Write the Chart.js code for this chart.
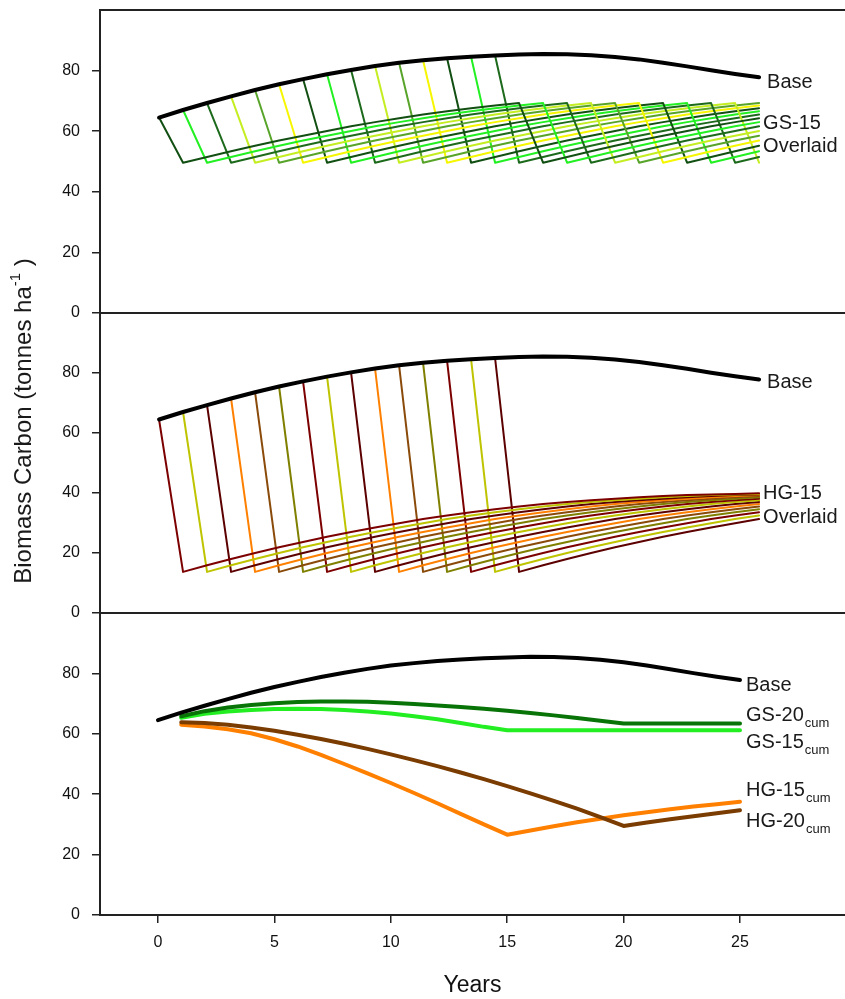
<!DOCTYPE html>
<html>
<head>
<meta charset="utf-8">
<script src="https://cdn.jsdelivr.net/npm/chart.js@4.4.0/dist/chart.umd.min.js"></script>
<style>
html, body { margin: 0; padding: 0; background: #fff; }
#wrap { position: relative; width: 845px; height: 999px; overflow: hidden; }
#wrap canvas { position: absolute; left: 0; top: 0; }
</style>
</head>
<body>
<div id="wrap">
  <canvas id="gsChart" width="845" height="999"></canvas>
  <canvas id="hgChart" width="845" height="999"></canvas>
  <canvas id="cumChart" width="845" height="999"></canvas>
</div>
<script>
// base stand, years 0..25
const baseYears = [0,1,2,3,4,5,6,7,8,9,10,11,12,13,14,15,16,17,18,19,20,21,22,23,24,25];
const base = [64.5,67.0,69.3,71.5,73.6,75.5,77.2,78.8,80.2,81.5,82.6,83.4,84.1,84.6,85.0,
              85.3,85.5,85.4,85.1,84.5,83.7,82.6,81.4,80.1,78.9,77.8];

// overlaid harvest runs: harvest year and regrowth after harvest (one value per year)
const harvestYears = [0,1,2,3,4,5,6,7,8,9,10,11,12,13,14];
const gsRegrowth = [49.6,51.5,53.4,55.2,56.9,58.5,60.1,61.6,63.0,64.3,65.5,66.6,67.6,68.5,69.3];
const hgRegrowth = [13.7,15.9,18.0,20.0,21.9,23.7,25.4,27.0,28.5,29.9,31.3,32.5,33.6,34.6,35.5,
                    36.3,37.0,37.6,38.1,38.6,39.0,39.3,39.5,39.7,39.9];

// cumulative runs, years 1..25
const cumYears = [1,2,3,4,5,6,7,8,9,10,11,12,13,14,15,16,17,18,19,20,21,22,23,24,25];
const gs20cum = [65.8,67.5,68.7,69.5,70.1,70.5,70.7,70.7,70.6,70.3,69.9,69.4,68.9,68.3,67.6,
                 66.9,66.1,65.2,64.3,63.4,63.4,63.4,63.4,63.4,63.4];
const gs15cum = [65.3,66.6,67.4,67.9,68.2,68.3,68.2,67.9,67.4,66.7,65.8,64.8,63.6,62.3,61.2,
                 61.2,61.2,61.2,61.2,61.2,61.2,61.2,61.2,61.2,61.2];
const hg15cum = [63.0,62.4,61.5,60.2,58.2,55.8,53.0,50.0,46.9,43.7,40.4,37.0,33.5,30.0,26.6,
                 28.0,29.4,30.7,31.9,33.0,34.0,35.0,35.9,36.7,37.5];
const hg20cum = [63.8,63.6,63.0,62.1,61.0,59.7,58.3,56.7,55.0,53.2,51.3,49.3,47.2,45.0,42.7,
                 40.3,37.8,35.2,32.4,29.5,30.6,31.7,32.7,33.7,34.7];

const yTicks = [0,20,40,60,80];
const xTicks = [0,5,10,15,20,25];

const gsColors = ['#124f12','#22f022','#1d6a1d','#c4ee22','#58a42a','#f6f600'];
const hgColors = ['#7c0000','#bec400','#5c0000','#ff8000','#8a4a0a','#7f7f00'];
const FONT = "'Liberation Sans', Arial, sans-serif";
const lastYear = baseYears[baseYears.length - 1];

function pts(xs, ys) {
    return xs.map((x, i) => ({ x: x, y: ys[i] }));
}

// one harvest run: starts on base, drops to regrowth; restarts regrowth when the array runs out
function harvestRun(k, regrow) {
    const out = [{ x: k, y: base[k] }];
    let t = 0;
    for (let yr = k + 1; yr <= lastYear; yr++) {
        if (t === regrow.length) t = 0;
        out.push({ x: yr, y: regrow[t] });
        t++;
    }
    return out;
}

function baseSet(width) {
    return { data: pts(baseYears, base), borderColor: '#000', borderWidth: width };
}

// draws the top frame line and the end-of-line labels
const panelDeco = {
    id: 'panelDeco',
    afterDraw(chart, args, opts) {
        const ctx = chart.ctx, a = chart.chartArea;
        const xs = chart.scales.x, ys = chart.scales.y;
        ctx.save();
        ctx.strokeStyle = '#222';
        ctx.lineWidth = 2;
        ctx.beginPath();
        ctx.moveTo(a.left, a.top);
        ctx.lineTo(a.right, a.top);
        ctx.stroke();
        ctx.fillStyle = '#1a1a1a';
        ctx.textBaseline = 'middle';
        (opts.labels || []).forEach(l => {
            const x = xs.getPixelForValue(lastYear) + l.dx;
            const y = ys.getPixelForValue(l.v);
            ctx.font = '20px ' + FONT;
            ctx.fillText(l.text, x, y);
            if (l.sub) {
                const w = ctx.measureText(l.text).width;
                ctx.font = '13px ' + FONT;
                ctx.fillText(l.sub, x + w + 1, y + 8);
            }
        });
        if (opts.yTitle) {
            ctx.translate(24, 421);
            ctx.rotate(-Math.PI / 2);
            ctx.font = '24px ' + FONT;
            const t1 = 'Biomass Carbon (tonnes ha', t2 = '-1', t3 = ' )';
            const w1 = ctx.measureText(t1).width;
            const w3 = ctx.measureText(t3).width;
            ctx.font = '15px ' + FONT;
            const w2 = ctx.measureText(t2).width;
            let x0 = -(w1 + w2 + w3) / 2;
            ctx.font = '24px ' + FONT;
            ctx.fillText(t1, x0, 0);
            ctx.font = '15px ' + FONT;
            ctx.fillText(t2, x0 + w1, -8);
            ctx.font = '24px ' + FONT;
            ctx.fillText(t3, x0 + w1 + w2, 0);
        }
        ctx.restore();
    }
};

function yScale() {
    return {
        type: 'linear', min: 0, max: 100,
        afterBuildTicks: s => { s.ticks = yTicks.map(v => ({ value: v })); },
        afterFit: s => { s.width = 100; s.paddingTop = 0; s.paddingBottom = 0; },
        grid: { drawOnChartArea: false, drawTicks: true, tickLength: 8, color: '#222', lineWidth: 1.5 },
        border: { display: true, color: '#222', width: 2 },
        ticks: { padding: 12, color: '#111', font: { family: FONT, size: 16 } }
    };
}

function makeChart(id, datasets, xMin, xMax, showX, padTop, padBottom, deco) {
    const x = showX ? {
        type: 'linear', min: xMin, max: xMax,
        afterBuildTicks: s => { s.ticks = xTicks.map(v => ({ value: v })); },
        afterFit: s => { s.height = 84; s.paddingLeft = 0; s.paddingRight = 0; },
        grid: { drawOnChartArea: false, drawTicks: true, tickLength: 8, color: '#222', lineWidth: 1.5 },
        border: { display: true, color: '#222', width: 2 },
        ticks: { padding: 10, color: '#111', font: { family: FONT, size: 16 } },
        title: { display: true, text: 'Years', color: '#111', font: { family: FONT, size: 23 }, padding: { top: 0, bottom: 0 } }
    } : { type: 'linear', min: xMin, max: xMax, display: false };

    return new Chart(document.getElementById(id), {
        type: 'line',
        data: { datasets: datasets },
        options: {
            responsive: false,
            animation: false,
            devicePixelRatio: 1,
            events: [],
            layout: { padding: { top: padTop, bottom: padBottom, left: 0, right: 0 } },
            elements: {
                point: { radius: 0 },
                line: { tension: 0, borderJoinStyle: 'round', borderCapStyle: 'round' }
            },
            scales: { x: x, y: yScale() },
            plugins: { legend: { display: false }, tooltip: { enabled: false }, panelDeco: deco }
        },
        plugins: [panelDeco]
    });
}

// top panel: GS-15 overlaid
const gsSets = [baseSet(4)];
harvestYears.forEach((k, i) => {
    gsSets.push({ data: harvestRun(k, gsRegrowth), borderColor: gsColors[i % gsColors.length], borderWidth: 2 });
});
makeChart('gsChart', gsSets, -2.46, 28.58, false, 10, 686, {
    labels: [
        { text: 'Base', v: 76.0, dx: 8 },
        { text: 'GS-15', v: 62.7, dx: 4 },
        { text: 'Overlaid', v: 55.0, dx: 4 }
    ]
});

// middle panel: HG-15 overlaid
const hgSets = [baseSet(4)];
harvestYears.forEach((k, i) => {
    hgSets.push({ data: harvestRun(k, hgRegrowth), borderColor: hgColors[i % hgColors.length], borderWidth: 2 });
});
makeChart('hgChart', hgSets, -2.46, 28.58, false, 313, 386, {
    labels: [
        { text: 'Base', v: 76.7, dx: 8 },
        { text: 'HG-15', v: 39.8, dx: 4 },
        { text: 'Overlaid', v: 32.0, dx: 4 }
    ]
});

// bottom panel: cumulative runs
const cumSets = [
    baseSet(4),
    { data: pts(cumYears, gs20cum), borderColor: '#087408', borderWidth: 4 },
    { data: pts(cumYears, gs15cum), borderColor: '#22ee22', borderWidth: 4 },
    { data: pts(cumYears, hg20cum), borderColor: '#7a3c00', borderWidth: 4 },
    { data: pts(cumYears, hg15cum), borderColor: '#ff8000', borderWidth: 4 }
];
makeChart('cumChart', cumSets, -2.49, 29.51, true, 613, 0, {
    yTitle: true,
    labels: [
        { text: 'Base', v: 76.0, dx: 6 },
        { text: 'GS-20', sub: 'cum', v: 66.2, dx: 6 },
        { text: 'GS-15', sub: 'cum', v: 57.1, dx: 6 },
        { text: 'HG-15', sub: 'cum', v: 41.1, dx: 6 },
        { text: 'HG-20', sub: 'cum', v: 31.1, dx: 6 }
    ]
});
</script>
</body>
</html>
